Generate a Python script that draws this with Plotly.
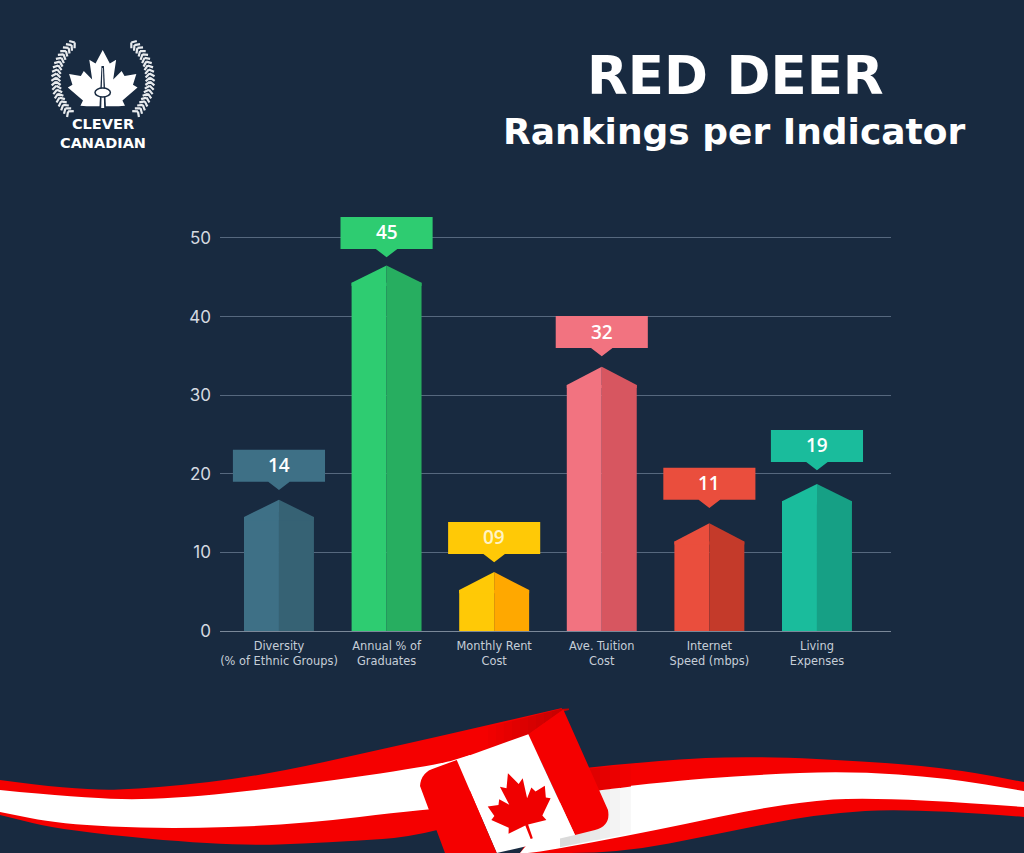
import plotly.express as px
import pandas as pd
import numpy as np

bg="#182a40"
rankings=pd.DataFrame({
    "indicator":["Diversity<br>(% of Ethnic Groups)","Annual % of<br>Graduates","Monthly Rent<br>Cost",
                 "Ave. Tuition<br>Cost","Internet<br>Speed (mbps)","Living<br>Expenses"],
    "label":["14","45","09","32","11","19"],
    "shoulder":[14.5,44.3,5.2,31.3,11.4,16.5],
    "peak":[16.7,46.5,7.5,33.6,13.7,18.7],
    "callout":[19.0,48.6,9.8,36.0,16.7,21.5],
    "light":["#3e7086","#2ecc71","#ffc906","#f27380","#ea4e3d","#1abc9c"],
    "dark":["#366274","#27ae60","#ffa800","#d75660","#c43a2a","#16a085"]})
rankings["position"]=range(len(rankings))

# one half bar per side, the two sides sit next to each other
halves=rankings.melt(id_vars=["position"],value_vars=["shoulder"],value_name="height")
halves=pd.concat([halves.assign(side="light"),halves.assign(side="dark")])

fig=px.bar(halves,
           x="position",
           y="height",
           color="side",
           barmode="group",
           width=1024,
           height=853)
fig.data[0].marker.color=list(rankings["light"])
fig.data[1].marker.color=list(rankings["dark"])
fig.update_traces(marker_line_width=0,showlegend=False,hoverinfo="skip",hovertemplate=None)

half=0.325
for row in rankings.itertuples():
    i=row.position
    base=row.shoulder-0.4 # roof reaches a little into the bar, no seam
    # the pitched roof on top of each bar
    fig.add_scatter(x=[i-half,i,i,i-half],y=[row.shoulder,row.peak,base,base],fill="toself",mode="none",
                    fillcolor=row.light,showlegend=False,hoverinfo="skip")
    fig.add_scatter(x=[i,i+half,i+half,i],y=[row.peak,row.shoulder,base,base],fill="toself",mode="none",
                    fillcolor=row.dark,showlegend=False,hoverinfo="skip")
    # callout box with its little pointer
    fig.add_scatter(x=[i-0.428,i+0.428,i+0.428,i+0.1,i,i-0.1,i-0.428],
                    y=[row.callout+4.07,row.callout+4.07,row.callout,row.callout,row.callout-1.05,row.callout,row.callout],
                    fill="toself",mode="none",fillcolor=row.light,showlegend=False,hoverinfo="skip")
    fig.add_annotation(x=i,y=row.callout+2.1,text=row.label,showarrow=False,
                       font=dict(family="Open Sans",size=19,weight=600,color="#ffffff" if row.label!="09" else "#fff3c4"))

fig.layout.showlegend=False
fig.layout.bargap=0.35
fig.layout.bargroupgap=0
fig.layout.paper_bgcolor=bg
fig.layout.plot_bgcolor=bg
fig.layout.margin=dict(l=220,r=133,t=190,b=222)
fig.layout.xaxis=dict(range=[-0.548,5.688],tickvals=list(rankings["position"]),ticktext=list(rankings["indicator"]),
                      title=None,showgrid=False,zeroline=False,ticks="",showline=False,ticklabelstandoff=7,
                      tickfont=dict(family="DejaVu Sans",size=11.4,color="#c6ced8"))
fig.layout.yaxis=dict(range=[0,56.1],tickvals=[0,10,20,30,40,50],title=None,gridcolor="#56687e",gridwidth=1,
                      zeroline=True,zerolinecolor="#7a8899",zerolinewidth=1,ticks="",showline=False,ticklabelstandoff=8,
                      tickfont=dict(family="Inter",size=17,color="#d5dae0"))

# picture pixels to paper coordinates
def pap(x,y):
    return (x-220)/671,(631-y)/441

def start(p):
    return "M%.4f,%.4f"%pap(*p)

def line(pts):
    return "".join("L%.4f,%.4f"%pap(*p) for p in pts)

def curve(pts):
    out="L%.4f,%.4f"%pap(*pts[0])
    for a,b in zip(pts[1:-1],pts[2:]):
        out+="Q%.4f,%.4f %.4f,%.4f"%(pap(*a)+pap((a[0]+b[0])/2,(a[1]+b[1])/2))
    return out+line(pts[-1:])

def shape(path,color):
    fig.add_shape(type="path",path=path,xref="paper",yref="paper",fillcolor=color,line_width=0,layer="above")

def ribbon(top,bottom,color):
    shape(start(top[0])+curve(top)+curve(bottom)+"Z",color)

def leaf(ox,oy,sx,sy,angle=0,stem=True):
    half_leaf=[(0.17,0.68),(0.32,0.77),(0.25,0.30),(0.45,0.50),(0.52,0.38),(0.80,0.43),(0.72,0.17),(0.83,0.11),
               (0.47,-0.20),(0.53,-0.33)]
    low=[(0.04,-0.28),(0.03,-0.62)] if stem else [(0.38,-0.34)]
    pts=[(0,1.0)]+half_leaf+low+[(-a,b) for a,b in low[::-1]]+[(-a,b) for a,b in half_leaf[::-1]]
    c,s=np.cos(np.radians(angle)),np.sin(np.radians(angle))
    return [(ox+a*sx*c+b*sy*s,oy-b*sy*c+a*sx*s) for a,b in pts]

# ribbon on the left of the flag
ribbon([(0,780),(80,791),(157,788),(261,776),(392,747),(480,727),(562,708)],
       [(520,804),(438,835),(327,843),(229,846),(65,831),(0,815)],"#f50000")
ribbon([(0,790),(80,798),(163,800),(294,786),(438,765),(470,755)],
       [(470,806),(425,809),(294,825),(163,829),(60,824),(0,812)],"#ffffff")
# ribbon on the right of the flag
ribbon([(575,769),(660,760),(751,756),(882,762),(960,770),(1024,782)],
       [(1024,817),(914,808),(816,814),(718,834),(620,853),(520,853)],"#f50000")
ribbon([(570,793),(660,782),(751,775),(849,771),(947,778),(1024,791)],
       [(1024,807),(882,796),(784,803),(653,831),(535,853),(520,853)],"#ffffff")
# shading next to the flag, in thin strips
for k,left in enumerate(range(560,630,10)):
    right=left+11
    top=[np.interp(v,[570,660],[794,783]) for v in (left,right)]
    low=[np.interp(v,[535,653],[852,829]) for v in (left,right)]
    level=218+k*5
    shape(start((left,top[0]))+line([(right,top[1]),(right,low[1]),(left,low[0])])+"Z","rgb(%d,%d,%d)"%(level,level,level))
    red_top=[np.interp(v,[575,660],[770,762]) for v in (left,right)]
    shape(start((left,red_top[0]))+line([(right,red_top[1]),(right,top[1]),(left,top[0])])+"Z","rgb(%d,0,0)"%(205+k*6))
for k,left in enumerate(range(480,565,8)):
    right=left+9
    top=[np.interp(v,[392,480,562],[748,729,708.5]) for v in (left,right)]
    low=[np.interp(v,[456,528,563],[761,735,710]) for v in (left,right)]
    shape(start((left,top[0]))+line([(right,top[1]),(right,low[1]),(left,low[0])])+"Z","rgb(%d,0,0)"%(245-k*5))
# the flag itself
shape(start((528.3,734.3))+line([(563.3,709.5),(608,810)])+"Q%.4f,%.4f %.4f,%.4f"%(pap(611,826)+pap(595,830))+line([(575,835)])+"Z","#f50000")
shape(start((456.7,760))+line([(528.3,734.3),(575,835),(496.7,853)])+"Z","#ffffff")
shape(start((420,786))+"Q%.4f,%.4f %.4f,%.4f"%(pap(421,772)+pap(435,768))+line([(456.7,760),(496.7,853),(445,853)])+"Z","#f50000")
lf=leaf(522.6,813.6,38,43,angle=-20)
shape(start(lf[0])+line(lf[1:])+"Z","#f00000")

# logo: wreath, leaf and tower
sprigs=""
for direction in (-1,1):
    for deg in range(-42,54,5):
        a=np.radians(deg)
        px_,py_=103+direction*47*np.cos(a),80-47*np.sin(a)
        tx,ty=direction*np.sin(a),np.cos(a)
        for side in (-1,1):
            nx,ny=direction*np.cos(a)*side,-np.sin(a)*side
            sprigs+=start((px_,py_))+line([(px_+4.5*nx+3.5*tx,py_+4.5*ny+3.5*ty)])
fig.add_shape(type="path",path=sprigs,xref="paper",yref="paper",line=dict(color="#e8ebee",width=2.2),layer="above")
lf=leaf(102.7,92,42,42,stem=False)
shape(start(lf[0])+line(lf[1:])+"Z","#ffffff")
shape(start((101.5,66))+line([(103.9,66),(106,108),(99.4,108)])+"Z",bg)
shape(start((102.4,68))+line([(103,68),(104.2,108),(101.2,108)])+"Z","#ffffff")
x0,y0=pap(95,88)
x1,y1=pap(110.4,97)
fig.add_shape(type="circle",x0=x0,y0=y0,x1=x1,y1=y1,xref="paper",yref="paper",fillcolor="#ffffff",
              line=dict(color=bg,width=1.5),layer="above")

def text(x,y,words,size,family="DejaVu Sans",weight=700,color="#ffffff"):
    px0,py0=pap(x,y)
    fig.add_annotation(x=px0,y=py0,xref="paper",yref="paper",text=words,showarrow=False,xanchor="center",yanchor="middle",
                       font=dict(family=family,size=size,color=color,weight=weight))

text(735,76,"RED DEER",53)
text(734,131,"Rankings per Indicator",36)
text(103,133,"CLEVER<br>CANADIAN",14.5)

fig.write_html("out.html",config={"displayModeBar":False},post_script="document.body.style.margin=0;")
